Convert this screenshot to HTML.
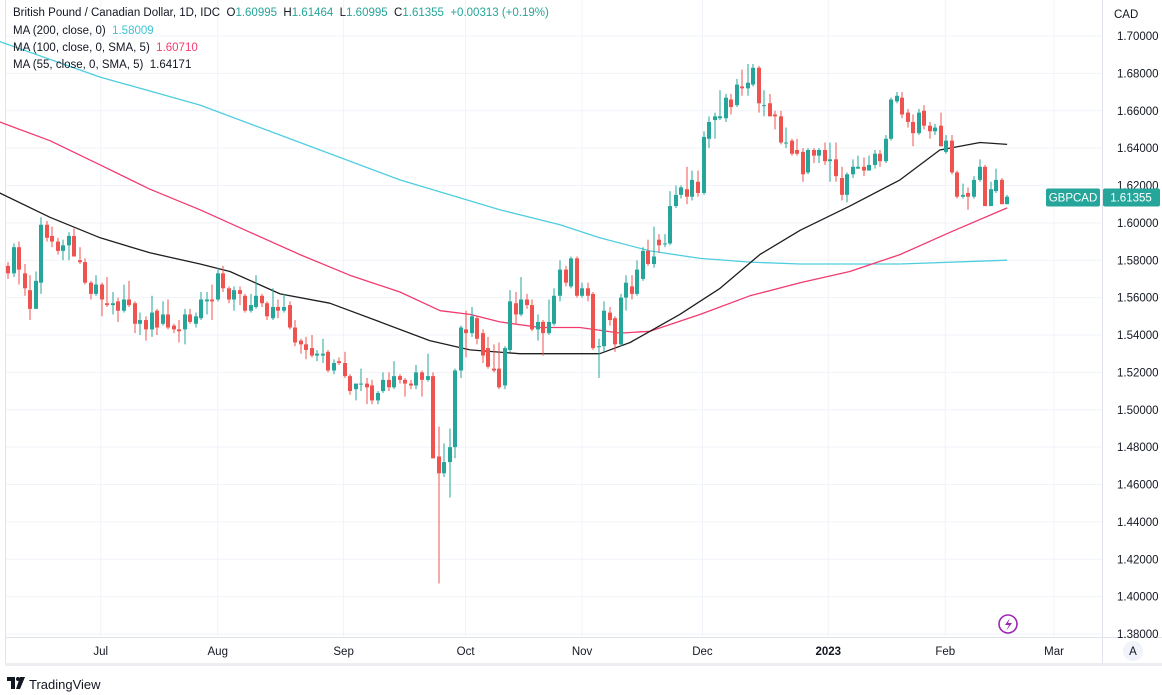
<!DOCTYPE html>
<html><head><meta charset="utf-8"><style>
html,body{margin:0;padding:0;background:#fff;width:1162px;height:695px;overflow:hidden}
body{font-family:"Liberation Sans",sans-serif;color:#131722}
svg{position:absolute;left:0;top:0}
.leg{position:absolute;left:13px;font-size:11.5px;white-space:nowrap;color:#131722}
</style></head><body>
<svg id="chart" width="1162" height="695"></svg>
<div class="leg" style="top:7px">British Pound / Canadian Dollar, 1D, IDC&nbsp; O<span style="color:#26a69a">1.60995</span>&nbsp; H<span style="color:#26a69a">1.61464</span>&nbsp; L<span style="color:#26a69a">1.60995</span>&nbsp; C<span style="color:#26a69a">1.61355</span>&nbsp; <span style="color:#26a69a">+0.00313 (+0.19%)</span></div>
<div class="leg" style="top:25px">MA (200, close, 0)&nbsp; <span style="color:#3fc4d6">1.58009</span></div>
<div class="leg" style="top:42px">MA (100, close, 0, SMA, 5)&nbsp; <span style="color:#f23b6f">1.60710</span></div>
<div class="leg" style="top:59px">MA (55, close, 0, SMA, 5)&nbsp; 1.64171</div>
<script>
const opens=[1.577,1.573,1.587,1.573,1.564,1.554,1.568,1.599,1.593,1.590,1.585,1.588,1.593,1.580,1.579,1.568,1.562,1.567,1.557,1.556,1.558,1.553,1.559,1.557,1.546,1.548,1.543,1.553,1.546,1.551,1.545,1.543,1.543,1.551,1.546,1.549,1.558,1.559,1.559,1.573,1.565,1.559,1.564,1.561,1.553,1.555,1.561,1.557,1.549,1.555,1.553,1.556,1.544,1.537,1.535,1.533,1.529,1.529,1.531,1.521,1.526,1.525,1.518,1.511,1.514,1.514,1.513,1.505,1.510,1.516,1.512,1.518,1.516,1.514,1.513,1.520,1.516,1.518,1.475,1.466,1.472,1.480,1.521,1.543,1.541,1.549,1.541,1.533,1.522,1.522,1.513,1.532,1.557,1.551,1.559,1.556,1.543,1.547,1.541,1.546,1.561,1.575,1.566,1.581,1.561,1.565,1.562,1.534,1.534,1.552,1.549,1.535,1.560,1.566,1.562,1.570,1.585,1.578,1.591,1.589,1.589,1.609,1.615,1.618,1.614,1.622,1.616,1.645,1.655,1.656,1.656,1.666,1.663,1.673,1.672,1.674,1.683,1.663,1.664,1.658,1.657,1.643,1.644,1.639,1.638,1.627,1.639,1.636,1.639,1.633,1.634,1.624,1.615,1.626,1.629,1.630,1.628,1.631,1.637,1.633,1.645,1.665,1.667,1.659,1.654,1.648,1.660,1.652,1.649,1.652,1.638,1.644,1.627,1.614,1.616,1.614,1.623,1.630,1.609,1.617,1.623,1.610];
const highs=[1.579,1.589,1.590,1.578,1.572,1.574,1.603,1.601,1.598,1.592,1.591,1.595,1.597,1.587,1.581,1.569,1.572,1.568,1.571,1.563,1.560,1.567,1.569,1.558,1.552,1.550,1.561,1.554,1.558,1.559,1.546,1.548,1.554,1.554,1.552,1.563,1.563,1.567,1.576,1.577,1.566,1.566,1.566,1.562,1.562,1.572,1.562,1.558,1.565,1.559,1.562,1.558,1.548,1.538,1.539,1.540,1.532,1.538,1.532,1.527,1.528,1.531,1.519,1.514,1.522,1.517,1.516,1.510,1.520,1.520,1.526,1.519,1.517,1.516,1.524,1.521,1.530,1.520,1.491,1.482,1.490,1.522,1.545,1.553,1.555,1.550,1.543,1.539,1.535,1.536,1.534,1.564,1.563,1.571,1.562,1.559,1.551,1.548,1.559,1.565,1.580,1.577,1.582,1.582,1.568,1.568,1.563,1.538,1.558,1.555,1.550,1.562,1.572,1.572,1.580,1.587,1.591,1.598,1.594,1.594,1.617,1.620,1.620,1.630,1.628,1.628,1.649,1.657,1.659,1.671,1.669,1.669,1.677,1.682,1.685,1.685,1.684,1.671,1.669,1.660,1.660,1.651,1.645,1.645,1.640,1.640,1.640,1.640,1.643,1.643,1.643,1.630,1.627,1.634,1.636,1.635,1.636,1.639,1.639,1.647,1.667,1.670,1.670,1.661,1.658,1.661,1.663,1.654,1.653,1.659,1.647,1.647,1.628,1.621,1.619,1.625,1.634,1.631,1.622,1.629,1.624,1.615];
const lows=[1.570,1.571,1.567,1.561,1.548,1.554,1.562,1.590,1.587,1.583,1.580,1.580,1.582,1.578,1.567,1.559,1.561,1.550,1.555,1.551,1.547,1.552,1.555,1.541,1.540,1.537,1.539,1.540,1.545,1.543,1.541,1.536,1.535,1.546,1.544,1.548,1.551,1.548,1.558,1.563,1.557,1.553,1.556,1.552,1.552,1.554,1.555,1.548,1.548,1.549,1.552,1.543,1.534,1.530,1.527,1.528,1.526,1.525,1.520,1.519,1.524,1.517,1.508,1.505,1.510,1.503,1.503,1.503,1.509,1.510,1.511,1.514,1.507,1.511,1.511,1.507,1.515,1.474,1.407,1.464,1.453,1.474,1.517,1.528,1.539,1.535,1.525,1.522,1.520,1.511,1.511,1.531,1.546,1.550,1.554,1.542,1.537,1.529,1.540,1.545,1.558,1.566,1.565,1.560,1.560,1.558,1.532,1.517,1.531,1.545,1.531,1.534,1.553,1.559,1.561,1.569,1.577,1.576,1.584,1.587,1.588,1.608,1.613,1.610,1.612,1.614,1.615,1.640,1.645,1.655,1.654,1.658,1.662,1.668,1.668,1.673,1.659,1.657,1.657,1.650,1.642,1.640,1.636,1.636,1.622,1.626,1.632,1.632,1.631,1.622,1.622,1.612,1.611,1.624,1.629,1.625,1.628,1.629,1.630,1.632,1.644,1.664,1.656,1.651,1.641,1.647,1.650,1.645,1.647,1.641,1.637,1.626,1.613,1.613,1.607,1.613,1.622,1.609,1.609,1.616,1.610,1.610];
const closes=[1.573,1.587,1.575,1.565,1.554,1.569,1.599,1.592,1.590,1.585,1.588,1.593,1.582,1.579,1.568,1.562,1.567,1.559,1.556,1.557,1.553,1.559,1.556,1.546,1.548,1.543,1.552,1.544,1.551,1.544,1.543,1.542,1.551,1.547,1.550,1.559,1.559,1.558,1.573,1.565,1.559,1.564,1.562,1.553,1.556,1.561,1.557,1.550,1.555,1.553,1.555,1.544,1.536,1.535,1.532,1.529,1.530,1.530,1.521,1.525,1.525,1.518,1.510,1.514,1.514,1.512,1.505,1.509,1.516,1.512,1.518,1.516,1.514,1.513,1.520,1.516,1.518,1.474,1.466,1.472,1.480,1.521,1.544,1.541,1.550,1.538,1.529,1.523,1.521,1.512,1.533,1.558,1.551,1.559,1.556,1.543,1.547,1.541,1.547,1.561,1.575,1.568,1.581,1.561,1.565,1.561,1.533,1.534,1.553,1.548,1.535,1.560,1.568,1.562,1.575,1.585,1.578,1.582,1.588,1.589,1.609,1.615,1.619,1.614,1.623,1.616,1.646,1.654,1.657,1.657,1.667,1.662,1.674,1.672,1.675,1.683,1.664,1.663,1.657,1.657,1.643,1.643,1.637,1.637,1.626,1.639,1.636,1.639,1.633,1.634,1.625,1.615,1.626,1.630,1.630,1.628,1.631,1.637,1.633,1.645,1.666,1.668,1.658,1.654,1.648,1.659,1.652,1.649,1.651,1.641,1.644,1.627,1.614,1.615,1.614,1.623,1.630,1.609,1.618,1.623,1.610,1.614];
// moving averages: [bar index, value]
const ma200=[[-1.5,1.697],[16.7,1.678],[34.8,1.663],[52.9,1.643],[71,1.623],[89.1,1.607],[100,1.599],[107.2,1.592],[116.3,1.585],[125.4,1.581],[134.4,1.579],[143.5,1.578],[161.6,1.578],[181,1.580]];
const ma100=[[-1.5,1.654],[7.6,1.644],[16.7,1.631],[25.7,1.618],[34.8,1.607],[43.8,1.595],[52.9,1.583],[61.9,1.572],[71,1.563],[78.3,1.553],[83.7,1.551],[89.1,1.547],[96.4,1.544],[103.6,1.544],[110.9,1.541],[116.3,1.542],[125.4,1.551],[134.4,1.561],[143.5,1.568],[152.5,1.574],[161.6,1.583],[170.7,1.595],[181,1.608]];
const ma55=[[-1.5,1.616],[7.6,1.603],[16.7,1.592],[25.7,1.584],[34.8,1.578],[40.2,1.574],[49.3,1.562],[58.3,1.557],[67.4,1.547],[76.4,1.537],[83.7,1.532],[92.7,1.530],[100,1.530],[107.2,1.530],[112.7,1.536],[121.7,1.551],[129,1.565],[136.2,1.583],[143.5,1.596],[152.5,1.609],[161.6,1.623],[168.8,1.639],[176.1,1.643],[181,1.642]];
const priceTicks=[1.70,1.68,1.66,1.64,1.62,1.60,1.58,1.56,1.54,1.52,1.50,1.48,1.46,1.44,1.42,1.40,1.38];
const monthLabels=["Jul","Aug","Sep","Oct","Nov","Dec","2023","Feb","Mar"];
const monthBars=[16.8,38,60.8,82.9,104,125.8,148.6,169.8,189.5];
const lastPrice=1.61355;

const NS="http://www.w3.org/2000/svg";
const svg=document.getElementById('chart');
const X0=8, STEP=5.52, PLOT_R=1102, PLOT_B=637;
const xs=i=>X0+STEP*i;
const ys=p=>36+(1.70-p)/0.02*37.375;
function mk(tag,attrs,parent){const e=document.createElementNS(NS,tag);for(const k in attrs)e.setAttribute(k,attrs[k]);(parent||svg).appendChild(e);return e;}

// grid
const grid=mk('g',{});


priceTicks.forEach(p=>{mk('line',{x1:5,x2:PLOT_R,y1:ys(p),y2:ys(p),stroke:'#f0f3fa','stroke-width':1},grid);});
monthBars.forEach(b=>{mk('line',{x1:xs(b),x2:xs(b),y1:0,y2:PLOT_B,stroke:'#f0f3fa','stroke-width':1},grid);});

// borders
mk('line',{x1:5.5,x2:5.5,y1:0,y2:664,stroke:'#e0e3eb'});
mk('line',{x1:PLOT_R+0.5,x2:PLOT_R+0.5,y1:0,y2:664,stroke:'#e0e3eb'});
mk('line',{x1:5,x2:1162,y1:PLOT_B+0.5,y2:PLOT_B+0.5,stroke:'#e0e3eb'});
mk('rect',{x:5,y:663,width:1157,height:3,fill:'#eceef2'});

// MA lines
function maLine(arr,color,name){
  const d=arr.map((p,i)=>(i?'L':'M')+xs(p[0]).toFixed(1)+' '+ys(p[1]).toFixed(1)).join(' ');
  const e=mk('path',{d:d,fill:'none',stroke:color,'stroke-width':1.3,'stroke-linejoin':'round'});
  
  
}
maLine(ma200,'#4fcde0','ma200-line');
maLine(ma100,'#f23b6f','ma100-line');
maLine(ma55,'#1e1e1e','ma55-line');

// candles
const cg=mk('g',{});


for(let i=0;i<closes.length;i++){
  const up=closes[i]>=opens[i];
  const col=up?'#26a69a':'#ef5350';
  const x=Math.round(xs(i));
  const w=mk('rect',{x:x-0.5,y:ys(highs[i]),width:1,height:Math.max(1,ys(lows[i])-ys(highs[i])),fill:col},cg);
  
  
  const top=ys(Math.max(opens[i],closes[i])),bot=ys(Math.min(opens[i],closes[i]));
  const b=mk('rect',{x:x-2,y:top,width:4,height:Math.max(1,bot-top),fill:col},cg);
  
  
}

// price axis labels
priceTicks.forEach(p=>{
  const t=mk('text',{x:1117,y:ys(p)+4,'font-size':'11.5','font-family':'Liberation Sans, sans-serif',fill:'#131722'});
  t.textContent=p.toFixed(5);
  
  
});
const cad=mk('text',{x:1114,y:18,'font-size':'11.5','font-family':'Liberation Sans, sans-serif',fill:'#131722'});
cad.textContent='CAD';



// time axis labels
monthLabels.forEach((m,i)=>{
  const t=mk('text',{x:xs(monthBars[i]),y:655,'text-anchor':'middle','font-size':'11.5','font-family':'Liberation Sans, sans-serif',fill:'#131722','font-weight':m==='2023'?'bold':'normal'});
  t.textContent=m;
  
  
});

// last price tags
const ly=ys(lastPrice);
const tag=mk('g',{});


mk('rect',{x:1046,y:ly-9,width:54,height:18,rx:2,fill:'#26a69a'},tag);
const st=mk('text',{x:1073,y:ly+4,'text-anchor':'middle','font-size':'11.5','font-family':'Liberation Sans, sans-serif',fill:'#fff'},tag);st.textContent='GBPCAD';
mk('rect',{x:1103,y:ly-9,width:57,height:18,rx:2,fill:'#26a69a'},tag);
const pt=mk('text',{x:1131,y:ly+4,'text-anchor':'middle','font-size':'11.5','font-family':'Liberation Sans, sans-serif',fill:'#fff'},tag);pt.textContent=lastPrice.toFixed(5);

// lightning icon
const li=mk('g',{});


mk('circle',{cx:1008,cy:624,r:9,fill:'none',stroke:'#9c27b0','stroke-width':1.6},li);
mk('path',{d:'M1010 618 L1005 625 L1009 625 L1006 631 L1012 623 L1008 623 Z',fill:'#9c27b0'},li);

// auto scale button
const ab=mk('g',{});


mk('circle',{cx:1133,cy:651,r:10,fill:'#f0f3fa'},ab);
const at=mk('text',{x:1133,y:655,'text-anchor':'middle','font-size':'11.5','font-family':'Liberation Sans, sans-serif',fill:'#131722'},ab);at.textContent='A';

// tradingview logo
const lg=mk('g',{});


mk('path',{d:'M7 677 H15 V689 H11 V681 H7 Z',fill:'#131722'},lg);
mk('circle',{cx:18,cy:679,r:2,fill:'#131722'},lg);
mk('path',{d:'M20 677 H25 L20 689 H16 Z',fill:'#131722'},lg);
const lt=mk('text',{x:29,y:689,'font-size':'13','font-family':'Liberation Sans, sans-serif',fill:'#131722'},lg);lt.textContent='TradingView';
</script>
</body></html>
